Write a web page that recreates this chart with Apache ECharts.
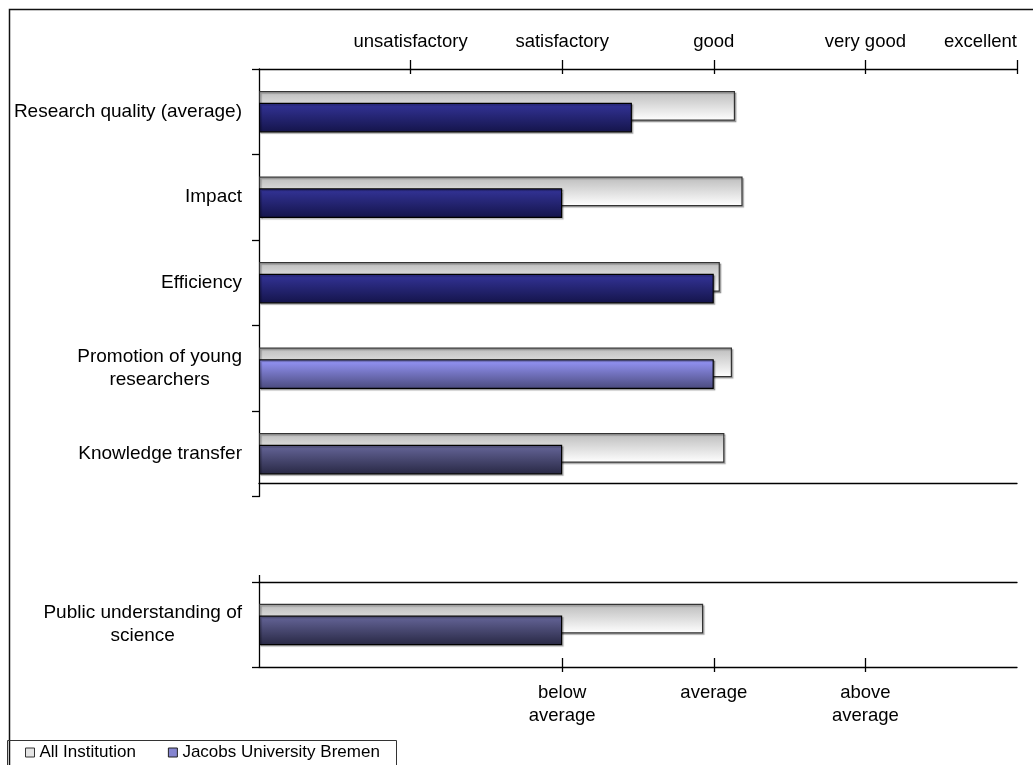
<!DOCTYPE html>
<html><head><meta charset="utf-8">
<script src="https://cdn.jsdelivr.net/npm/echarts@6/dist/echarts.min.js"></script>
<style>html,body{margin:0;padding:0;background:#fff}#c{width:1033px;height:765px}</style>
</head><body><div id="c"></div>
<script>
// ---- data ----
const categoriesTop = ['Research quality (average)', 'Impact', 'Efficiency', 'Promotion of young\nresearchers', 'Knowledge transfer'];
const categoriesBottom = ['Public understanding of\nscience'];
const allTop = [3.14, 3.19, 3.04, 3.12, 3.07];
const jacobsTop = [2.46, 2.0, 3.0, 3.0, 2.0];
const allBottom = [2.93];
const jacobsBottom = [2.0];
const ratingValues = [1, 2, 3, 4, 5];
const ratingLabels = ['unsatisfactory', 'satisfactory', 'good', 'very good', 'excellent'];
const comparisonValues = [2, 3, 4];
const comparisonLabels = ['below\naverage', 'average', 'above\naverage'];
const seriesNames = ['All Institution', 'Jacobs University Bremen'];

// ---- styles ----
const FONT = "'Liberation Sans', Arial, sans-serif";
function grad(top, bottom) {
  return new echarts.graphic.LinearGradient(0, 0, 0, 1, [{offset: 0, color: top}, {offset: 1, color: bottom}]);
}
const shadow = {shadowColor: 'rgba(0,0,0,0.25)', shadowOffsetX: 1.5, shadowOffsetY: 1.5, shadowBlur: 1};
const allStyle = Object.assign({color: grad('#bcbcbc', '#ffffff'), borderColor: '#333', borderWidth: 1.2}, shadow);
const navy = Object.assign({color: grad('#343499', '#14144a'), borderColor: '#000', borderWidth: 1.2}, shadow);
const lilac = Object.assign({color: grad('#9797fb', '#4a4a7c'), borderColor: '#000', borderWidth: 1.2}, shadow);
const slate = Object.assign({color: grad('#66669a', '#282844'), borderColor: '#000', borderWidth: 1.2}, shadow);
const jacobsTopStyles = [navy, navy, navy, lilac, slate];
const jacobsBottomStyles = [slate];

const BAR_W = 29.6, BAR_GAP = '-60%';
const LINE = {color: '#000', width: 1.3};

function catLabelFormatter(v) {
  return v.split('\n').map(l => '{c|' + l + '}').join('\n');
}
const catLabel = {
  fontSize: 19, fontFamily: FONT, color: '#000', margin: 17,
  formatter: catLabelFormatter,
  rich: {c: {fontSize: 19, fontFamily: FONT, color: '#000', align: 'center', lineHeight: 23}}
};
const valueBase = {type: 'value', min: 0, max: 5, splitLine: {show: false},
  axisLine: {show: true, onZero: false, lineStyle: LINE}};
const tickOnly = (grid, pos, values, inside, len) => ({
  type: 'value', min: 0, max: 5, gridIndex: grid, position: pos, splitLine: {show: false},
  axisLine: {show: false, onZero: false}, axisLabel: {show: false},
  axisTick: {show: true, inside: inside, length: len, customValues: values, lineStyle: LINE}
});

const gridTop = {left: 259, right: 16, top: 69, height: 427.5};
const gridBottom = {left: 259, right: 16, top: 582, height: 85};

const chart = echarts.init(document.getElementById('c'), null, {renderer: 'canvas'});
chart.setOption({
  animation: false,
  backgroundColor: '#fff',
  textStyle: {fontFamily: FONT},
  grid: [gridTop, gridBottom, Object.assign({}, gridTop), Object.assign({}, gridBottom)],
  xAxis: [
    Object.assign({}, valueBase, {gridIndex: 0, position: 'top',
      axisTick: {show: true, length: 9, customValues: ratingValues, lineStyle: LINE},
      axisLabel: {show: true, customValues: ratingValues, margin: 18, fontSize: 18.5, fontFamily: FONT, color: '#000',
        alignMaxLabel: 'right',
        formatter: v => ratingLabels[ratingValues.indexOf(v)]}}),
    Object.assign({}, valueBase, {gridIndex: 0, position: 'bottom', offset: -13,
      axisTick: {show: false}, axisLabel: {show: false}}),
    Object.assign({}, valueBase, {gridIndex: 1, position: 'bottom',
      axisTick: {show: true, inside: true, length: 9, customValues: comparisonValues, lineStyle: LINE},
      axisLabel: {show: true, customValues: comparisonValues, margin: 14, fontSize: 18.5, fontFamily: FONT, color: '#000',
        lineHeight: 23, formatter: v => comparisonLabels[comparisonValues.indexOf(v)]}}),
    Object.assign({}, valueBase, {gridIndex: 1, position: 'top',
      axisTick: {show: false}, axisLabel: {show: false}}),
    // cross-tick companions
    tickOnly(2, 'top', ratingValues, true, 5),
    tickOnly(3, 'bottom', comparisonValues, false, 5),
    tickOnly(3, 'top', [0], false, 7)
  ],
  yAxis: [
    {type: 'category', gridIndex: 0, data: categoriesTop, inverse: true,
      axisLine: {show: true, lineStyle: LINE},
      axisTick: {show: true, length: 7, lineStyle: LINE},
      axisLabel: catLabel},
    {type: 'category', gridIndex: 1, data: categoriesBottom, inverse: true,
      axisLine: {show: true, lineStyle: LINE},
      axisTick: {show: true, length: 7, lineStyle: LINE},
      axisLabel: catLabel},
    {type: 'category', gridIndex: 2, data: [''], show: false},
    {type: 'category', gridIndex: 3, data: [''], show: false}
  ],
  legend: {
    left: 25, top: 744, padding: 0, itemWidth: 9, itemHeight: 9, itemGap: 32,
    textStyle: {fontSize: 17, fontFamily: FONT, color: '#000'},
    data: [
      {name: seriesNames[0], icon: 'rect', itemStyle: {color: '#e4e4e4', borderColor: '#333', borderWidth: 1}},
      {name: seriesNames[1], icon: 'rect', itemStyle: {color: '#8585d0', borderColor: '#222', borderWidth: 1}}
    ]
  },
  graphic: [
    {type: 'rect', left: 7, top: 7, silent: true, z: 100,
      shape: {x: 0, y: 0, width: 1100, height: 1000},
      style: {fill: null, stroke: '#111', lineWidth: 1.5}},
    {type: 'rect', silent: true, z: 100,
      shape: {x: 7.5, y: 740.5, width: 389, height: 40},
      style: {fill: null, stroke: '#333', lineWidth: 1}}
  ],
  series: [
    {type: 'bar', name: seriesNames[0], xAxisIndex: 0, yAxisIndex: 0, data: allTop,
      barWidth: BAR_W, barGap: BAR_GAP, itemStyle: allStyle},
    {type: 'bar', name: seriesNames[1], xAxisIndex: 0, yAxisIndex: 0,
      data: jacobsTop.map((v, i) => ({value: v, itemStyle: jacobsTopStyles[i]})),
      barWidth: BAR_W, barGap: BAR_GAP, itemStyle: navy},
    {type: 'bar', name: seriesNames[0], xAxisIndex: 2, yAxisIndex: 1, data: allBottom,
      barWidth: BAR_W, barGap: BAR_GAP, itemStyle: allStyle},
    {type: 'bar', name: seriesNames[1], xAxisIndex: 2, yAxisIndex: 1,
      data: jacobsBottom.map((v, i) => ({value: v, itemStyle: jacobsBottomStyles[i]})),
      barWidth: BAR_W, barGap: BAR_GAP, itemStyle: slate}
  ]
});
</script>
</body></html>
